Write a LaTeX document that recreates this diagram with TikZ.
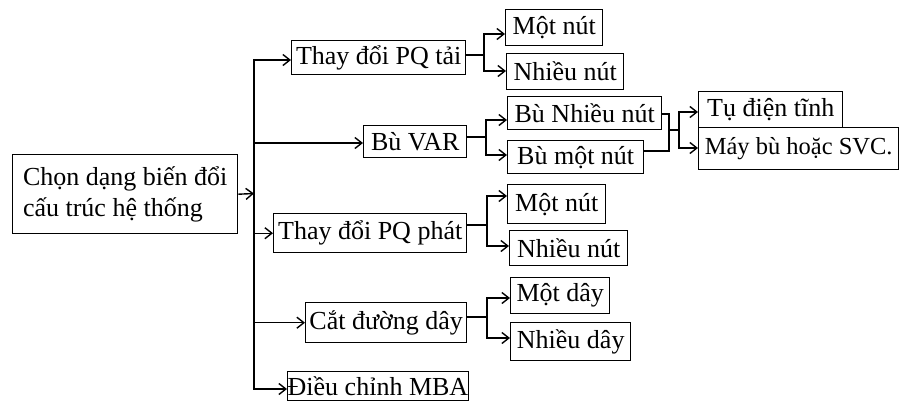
\documentclass[tikz,border=0pt]{standalone}
\usepackage{fontspec}
\setmainfont{Liberation Serif}
\usetikzlibrary{arrows.meta}
\begin{document}
\begin{tikzpicture}[x=1bp,y=-1bp,
  bx/.style={draw, line width=1.4bp, inner sep=0pt, anchor=north west,
    font=\fontsize{26bp}{31bp}\selectfont},
  ln/.style={line width=1.4bp},
  arr/.style={ln, -{Straight Barb[length=7bp,width=11bp,line width=1.4bp]}}]
\useasboundingbox (0,0) rectangle (899,400);

% root
\node[bx, minimum width=225bp, minimum height=79bp, align=left] (root) at (12,154)
  {Chọn dạng biến đổi\\cấu trúc hệ thống};

% level 1
\node[bx, minimum width=174bp, minimum height=34bp] (tai)  at (291,40)  {Thay đổi PQ tải};
\node[bx, minimum width=103bp, minimum height=32bp] (var)  at (363,125) {Bù VAR};
\node[bx, minimum width=193bp, minimum height=39bp] (phat) at (273,213) {Thay đổi PQ phát};
\node[bx, minimum width=161bp, minimum height=40bp] (cat)  at (305,302) {Cắt đường dây};
\node[bx, minimum width=179bp, minimum height=29bp] (mba)  at (287,371) {Điều chỉnh MBA};

% level 2
\node[bx, minimum width=97bp,  minimum height=36bp] (t1) at (505,9)   {Một nút};
\node[bx, minimum width=117bp, minimum height=36bp] (t2) at (506,53)  {Nhiều nút};
\node[bx, minimum width=154bp, minimum height=33bp] (v1) at (507,96)  {Bù Nhiều nút};
\node[bx, minimum width=136bp, minimum height=33bp] (v2) at (507,140) {Bù một nút};
\node[bx, minimum width=98bp,  minimum height=39bp] (p1) at (507,184) {Một nút};
\node[bx, minimum width=118bp, minimum height=35bp] (p2) at (509,230) {Nhiều nút};
\node[bx, minimum width=99bp,  minimum height=36bp] (c1) at (510,277) {Một dây};
\node[bx, minimum width=120bp, minimum height=38bp] (c2) at (510,322) {Nhiều dây};

% level 3
\node[bx, minimum width=144bp, minimum height=36bp] (s1) at (698,91)  {Tụ điện tĩnh};
\node[bx, minimum width=200bp, minimum height=42bp,
  font=\fontsize{24.5bp}{29bp}\selectfont] (s2) at (698,127) {Máy bù hoặc SVC.};

% trunk
\coordinate (J) at (254,193.5);
\draw[arr] (root.east) -- (J);
\draw[arr] (J) |- (tai.west |- 0,60);
\draw[arr] (J) |- (var.west |- 0,143);
\draw[arr] (J) |- (phat.west);
\draw[arr] (J) |- (cat.west);
\draw[arr] (J) |- (mba.west |- 0,389);

% tai
\coordinate (jt) at (484,55);
\draw[ln] (tai.east |- jt) -- (jt);
\draw[arr] (jt) |- (t1.west |- 0,34);
\draw[arr] (jt) |- (t2.west |- 0,71);

% var
\coordinate (jv) at (486,137);
\draw[ln] (var.east |- jv) -- (jv);
\draw[arr] (jv) |- (v1.west |- 0,120);
\draw[arr] (jv) |- (v2.west |- 0,155);

% phat
\coordinate (jp) at (487,225);
\draw[ln] (phat.east |- jp) -- (jp);
\draw[arr] (jp) |- (p1.west |- 0,196);
\draw[arr] (jp) |- (p2.west |- 0,246);

% cat
\coordinate (jc) at (487,317);
\draw[ln] (cat.east |- jc) -- (jc);
\draw[arr] (jc) |- (c1.west |- 0,298);
\draw[arr] (jc) |- (c2.west |- 0,338);

% bu
\coordinate (jb) at (669,130);
\coordinate (jb2) at (679,130);
\draw[ln] (v1.east |- 0,114) -| (jb);
\draw[ln] (v2.east |- 0,151) -| (jb);
\draw[ln] (jb) -- (jb2);
\draw[arr] (jb2) |- (s1.west |- 0,112);
\draw[arr] (jb2) |- (s2.west |- 0,148);
\end{tikzpicture}
\end{document}
